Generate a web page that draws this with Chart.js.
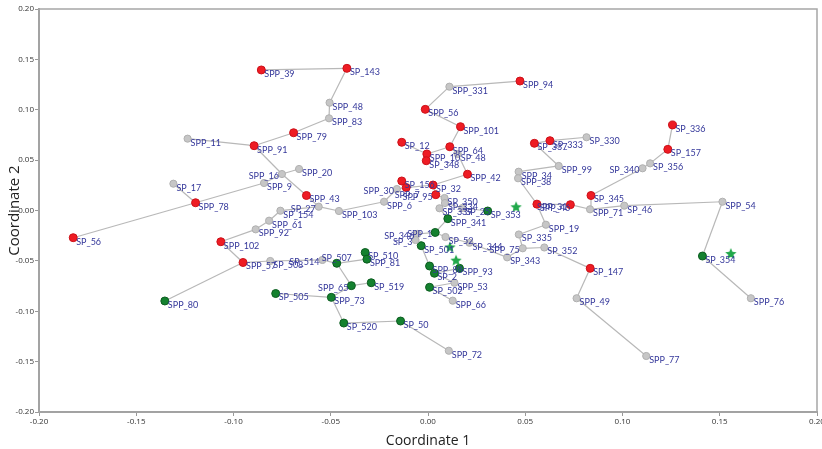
<!DOCTYPE html>
<html>
<head>
<meta charset="utf-8">
<script src="https://cdn.jsdelivr.net/npm/chart.js@4.4.1/dist/chart.umd.min.js"></script>
<style>
  html, body { margin: 0; padding: 0; background: #fff; }
  #wrap { width: 822px; height: 449px; }
</style>
</head>
<body>
<div id="wrap"><canvas id="mst"></canvas></div>
<script>
// node name, coordinate 1, coordinate 2
const redNodes = [
  ['SPP_39', -0.0857, 0.1395], ['SP_143', -0.0417, 0.1411], ['SPP_79', -0.0691, 0.0772],
  ['SPP_91', -0.0894, 0.0643], ['SPP_78', -0.1195, 0.0077], ['SP_56', -0.1824, -0.0270],
  ['SPP_102', -0.1065, -0.0310], ['SPP_57', -0.0951, -0.0516], ['SPP_43', -0.0625, 0.0149],
  ['SPP_94', 0.0473, 0.1285], ['SPP_56', -0.0014, 0.1004], ['SPP_101', 0.0167, 0.0832],
  ['SP_12', -0.0135, 0.0677], ['SPP_64', 0.0112, 0.0633], ['SPP_10', -0.0006, 0.0561],
  ['SP_348', -0.0009, 0.0494], ['SPP_42', 0.0203, 0.0360], ['SP_156', -0.0135, 0.0293],
  ['SP_32', 0.0026, 0.0253], ['SPP_7', -0.0112, 0.0228], ['SPP_95', 0.0040, 0.0157],
  ['SP_337', 0.0547, 0.0667], ['SP_333', 0.0627, 0.0693], ['SP_336', 0.1257, 0.0849],
  ['SP_157', 0.1233, 0.0607], ['SP_345', 0.0838, 0.0149], ['SPP_46', 0.0560, 0.0063],
  ['SPP_31', 0.0732, 0.0058], ['SP_147', 0.0834, -0.0574]
];

const grayNodes = [
  ['SPP_11', -0.1236, 0.0713], ['SPP_48', -0.0506, 0.1070], ['SPP_83', -0.0509, 0.0915],
  ['SPP_16', -0.0751, 0.0362], ['SPP_20', -0.0663, 0.0412], ['SP_17', -0.1309, 0.0266],
  ['SPP_9', -0.0843, 0.0273], ['SP_154', -0.0759, -0.0002], ['SPP_61', -0.0817, -0.0101],
  ['SPP_92', -0.0886, -0.0187], ['SP_508', -0.0811, -0.0501], ['SP_514', -0.0543, -0.0491],
  ['SP_27', -0.0562, 0.0038], ['SPP_103', -0.0458, -0.0005], ['SPP_6', -0.0226, 0.0087],
  ['SPP_30', -0.0160, 0.0213], ['SPP_331', 0.0110, 0.1229], ['SP_48', 0.0153, 0.0561],
  ['SP_350', 0.0085, 0.0124], ['SP_334', 0.0087, 0.0074], ['SP_339', 0.0059, 0.0022],
  ['SP_25', 0.0177, 0.0025], ['SP_346', -0.0055, -0.0233], ['SP_3', -0.0064, -0.0293],
  ['SP_52', 0.0090, -0.0263], ['SP_344', 0.0213, -0.0320], ['SP_343', 0.0407, -0.0465],
  ['SPP_75', 0.0487, -0.0375], ['SP_335', 0.0467, -0.0238], ['SP_352', 0.0598, -0.0367],
  ['SPP_19', 0.0606, -0.0141], ['SPP_34', 0.0466, 0.0385], ['SPP_38', 0.0463, 0.0320],
  ['SPP_99', 0.0672, 0.0442], ['SP_330', 0.0815, 0.0727], ['SP_356', 0.1142, 0.0468],
  ['SP_340', 0.1103, 0.0419], ['SPP_71', 0.0833, 0.0012], ['SP_46', 0.1009, 0.0048],
  ['SPP_54', 0.1514, 0.0087], ['SPP_76', 0.1660, -0.0871], ['SPP_49', 0.0764, -0.0871],
  ['SPP_77', 0.1122, -0.1444], ['SPP_53', 0.0136, -0.0717], ['SPP_66', 0.0127, -0.0895],
  ['SPP_72', 0.0107, -0.1392]
];

const greenNodes = [
  ['SPP_80', -0.1353, -0.0898], ['SP_505', -0.0783, -0.0824], ['SP_507', -0.0469, -0.0524],
  ['SP_510', -0.0323, -0.0417], ['SPP_81', -0.0314, -0.0483], ['SPP_65', -0.0394, -0.0746],
  ['SP_519', -0.0292, -0.0717], ['SPP_73', -0.0497, -0.0862], ['SP_520', -0.0433, -0.1117],
  ['SP_50', -0.0141, -0.1097], ['SP_353', 0.0307, -0.0005], ['SPP_341', 0.0102, -0.0081],
  ['SPP_1', 0.0037, -0.0218], ['SP_501', -0.0035, -0.0349], ['SPP_88', 0.0008, -0.0551],
  ['SP_2', 0.0033, -0.0623], ['SPP_93', 0.0162, -0.0574], ['SP_502', 0.0008, -0.0762],
  ['SP_354', 0.1411, -0.0452]
];

const starPoints = [
  [0.0453, 0.0032], [0.0113, -0.0367], [0.0144, -0.0498], [0.1557, -0.0432]
];

const edges = [
  ['SPP_39', 'SP_143'], ['SP_143', 'SPP_48'], ['SPP_48', 'SPP_83'], ['SPP_83', 'SPP_79'],
  ['SPP_79', 'SPP_91'], ['SPP_11', 'SPP_91'], ['SPP_91', 'SPP_16'], ['SPP_16', 'SPP_43'],
  ['SPP_16', 'SPP_20'], ['SPP_16', 'SPP_9'], ['SPP_9', 'SPP_78'], ['SP_17', 'SPP_78'],
  ['SPP_78', 'SP_56'], ['SPP_43', 'SP_27'], ['SP_154', 'SP_27'], ['SP_27', 'SPP_103'],
  ['SPP_103', 'SPP_6'], ['SPP_6', 'SPP_30'], ['SPP_30', 'SPP_7'], ['SPP_7', 'SP_156'],
  ['SPP_7', 'SP_32'], ['SP_32', 'SPP_42'], ['SPP_42', 'SP_48'], ['SP_48', 'SPP_64'],
  ['SPP_64', 'SPP_10'], ['SPP_10', 'SP_12'], ['SPP_10', 'SP_348'], ['SPP_64', 'SPP_101'],
  ['SPP_101', 'SPP_56'], ['SPP_56', 'SPP_331'], ['SPP_331', 'SPP_94'], ['SP_32', 'SPP_95'],
  ['SPP_95', 'SP_350'], ['SP_350', 'SP_334'], ['SP_334', 'SP_339'], ['SP_334', 'SP_25'],
  ['SP_25', 'SP_353'], ['SP_339', 'SPP_341'], ['SPP_341', 'SPP_1'], ['SPP_1', 'SP_346'],
  ['SP_346', 'SP_3'], ['SP_3', 'SP_501'], ['SPP_1', 'SP_52'], ['SP_52', 'SP_344'],
  ['SP_344', 'SP_343'], ['SP_343', 'SPP_75'], ['SPP_75', 'SP_335'], ['SP_335', 'SPP_19'],
  ['SPP_19', 'SPP_46'], ['SPP_75', 'SP_352'], ['SP_352', 'SP_147'], ['SP_147', 'SPP_49'],
  ['SPP_49', 'SPP_77'], ['SPP_46', 'SPP_38'], ['SPP_38', 'SPP_34'], ['SPP_34', 'SPP_99'],
  ['SPP_99', 'SP_337'], ['SP_337', 'SP_333'], ['SP_333', 'SP_330'], ['SPP_46', 'SPP_31'],
  ['SPP_31', 'SPP_71'], ['SPP_71', 'SP_345'], ['SP_345', 'SP_340'], ['SP_340', 'SP_356'],
  ['SP_356', 'SP_157'], ['SP_157', 'SP_336'], ['SPP_71', 'SP_46'], ['SP_46', 'SPP_54'],
  ['SPP_54', 'SP_354'], ['SP_354', 'SPP_76'], ['SP_501', 'SPP_88'], ['SPP_88', 'SP_2'],
  ['SP_2', 'SPP_93'], ['SP_2', 'SPP_53'], ['SPP_53', 'SP_502'], ['SP_502', 'SPP_66'],
  ['SP_154', 'SPP_61'], ['SPP_61', 'SPP_92'], ['SPP_92', 'SPP_102'], ['SPP_102', 'SPP_57'],
  ['SPP_57', 'SPP_80'], ['SPP_57', 'SP_508'], ['SP_508', 'SP_514'], ['SP_514', 'SP_507'],
  ['SP_507', 'SPP_81'], ['SPP_81', 'SP_510'], ['SP_507', 'SPP_65'], ['SPP_65', 'SP_519'],
  ['SPP_65', 'SPP_73'], ['SPP_73', 'SP_505'], ['SPP_73', 'SP_520'], ['SP_520', 'SP_50'],
  ['SP_50', 'SPP_72']
];

const tickValues = [-0.20, -0.15, -0.10, -0.05, 0.00, 0.05, 0.10, 0.15, 0.20];

// labels that sit on the other side of their dot
const leftLabels = ['SPP_16', 'SPP_30', 'SP_340', 'SPP_95', 'SPP_1', 'SP_346', 'SP_3',
  'SPP_75', 'SP_514', 'SPP_65', 'SP_27', 'SPP_31'];
const aboveLabels = ['SP_507'];
const belowLabels = ['SPP_7'];

const nodeMap = {};
[...redNodes, ...grayNodes, ...greenNodes].forEach(([n, x, y]) => { nodeMap[n] = { x, y }; });
const toPts = list => list.map(([n, x, y]) => ({ x, y, name: n }));

function starImage(r, color) {
  const c = document.createElement('canvas');
  c.width = c.height = 2 * r + 2;
  const g = c.getContext('2d');
  g.beginPath();
  for (let i = 0; i < 10; i++) {
    const a = -Math.PI / 2 + i * Math.PI / 5;
    const rr = i % 2 ? r * 0.45 : r;
    g.lineTo(r + 1 + rr * Math.cos(a), r + 1 + rr * Math.sin(a));
  }
  g.closePath();
  g.fillStyle = color;
  g.fill();
  return c;
}

const edgeSets = edges.map(([a, b]) => ({
  data: [nodeMap[a], nodeMap[b]],
  showLine: true,
  borderColor: '#b8b8b8',
  borderWidth: 1.2,
  pointRadius: 0,
  order: 5
}));

const nodeSets = [
  { data: toPts(grayNodes), pointRadius: 3.6, backgroundColor: '#c6c6c6', borderColor: '#b0b0b0', borderWidth: 1, order: 1 },
  { data: toPts(redNodes), pointRadius: 4, backgroundColor: '#ee1c24', borderColor: '#cc1018', borderWidth: 1, order: 1 },
  { data: toPts(greenNodes), pointRadius: 4, backgroundColor: '#14812f', borderColor: '#0b5c1f', borderWidth: 1, order: 1 },
  { data: starPoints.map(([x, y]) => ({ x, y })), pointStyle: starImage(6, '#21a84a'), order: 0 }
];

// node names next to the dots
const nameLabels = {
  id: 'nameLabels',
  afterDatasetsDraw(chart) {
    const ctx = chart.ctx, xs = chart.scales.x, ys = chart.scales.y;
    ctx.save();
    ctx.font = '9px Lato';
    ctx.fillStyle = '#34379a';
    ctx.textBaseline = 'middle';
    [...redNodes, ...grayNodes, ...greenNodes].forEach(([n, x, y]) => {
      const px = xs.getPixelForValue(x), py = ys.getPixelForValue(y);
      if (leftLabels.includes(n)) {
        ctx.textAlign = 'right';
        ctx.fillText(n, px - 3, py + 2);
      } else if (aboveLabels.includes(n)) {
        ctx.textAlign = 'center';
        ctx.fillText(n, px, py - 5);
      } else if (belowLabels.includes(n)) {
        ctx.textAlign = 'center';
        ctx.fillText(n, px + 1, py + 8);
      } else {
        ctx.textAlign = 'left';
        ctx.fillText(n, px + 3, py + 4);
      }
    });
    ctx.restore();
  }
};

// grey box round the plot
const frame = {
  id: 'frame',
  beforeDatasetsDraw(chart) {
    const a = chart.chartArea, ctx = chart.ctx;
    ctx.save();
    ctx.strokeStyle = '#a6a6a6';
    ctx.lineWidth = 1.5;
    ctx.strokeRect(a.left, a.top, a.right - a.left, a.bottom - a.top);
    ctx.restore();
  }
};

const axisCommon = {
  type: 'linear',
  min: -0.2,
  max: 0.2,
  afterBuildTicks: s => { s.ticks = tickValues.map(v => ({ value: v })); },
  grid: { display: true, drawOnChartArea: false, drawTicks: true, tickLength: 4, color: '#999' },
  border: { display: true, color: '#999', width: 2 },
  ticks: { font: { family: 'Open Sans', size: 8 }, color: '#333', padding: 1, callback: v => v.toFixed(2) }
};

new Chart(document.getElementById('mst'), {
  type: 'scatter',
  data: { datasets: [...nodeSets, ...edgeSets] },
  options: {
    responsive: true,
    maintainAspectRatio: false,
    animation: false,
    events: [],
    layout: { padding: { top: 9, right: 4, left: 0, bottom: 0 } },
    plugins: { legend: { display: false }, tooltip: { enabled: false } },
    scales: {
      x: {
        ...axisCommon,
        afterFit: s => { s.height = 37; s.paddingRight = 0; s.paddingLeft = 0; },
        title: { display: true, text: 'Coordinate 1', font: { family: 'Open Sans', size: 14 }, color: '#222', padding: { top: 2, bottom: 0 } }
      },
      y: {
        ...axisCommon,
        afterFit: s => { s.width = 39; s.paddingTop = 0; s.paddingBottom = 0; },
        title: { display: true, text: 'Coordinate 2', font: { family: 'Open Sans', size: 15 }, color: '#222', padding: { top: 6, bottom: 0 } }
      }
    }
  },
  plugins: [frame, nameLabels]
});
</script>
</body>
</html>
